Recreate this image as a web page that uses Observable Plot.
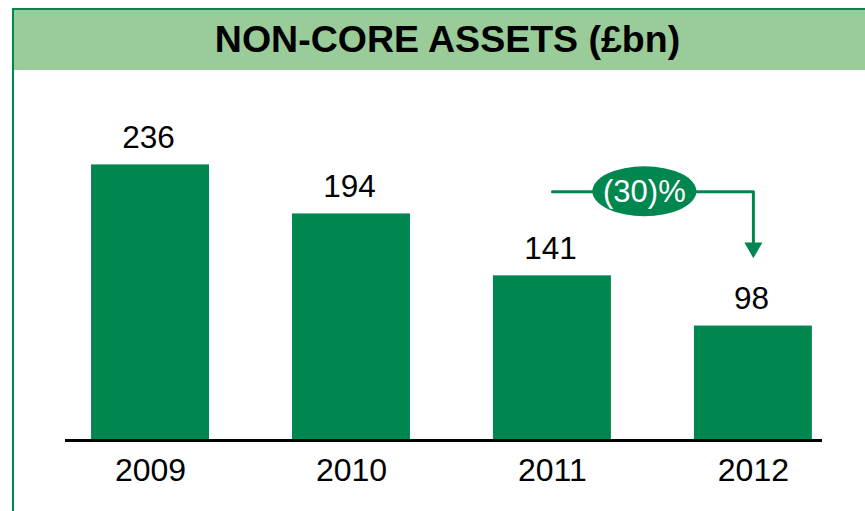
<!DOCTYPE html>
<html>
<head>
<meta charset="utf-8">
<script src="https://cdn.jsdelivr.net/npm/d3@7"></script>
<script src="https://cdn.jsdelivr.net/npm/@observablehq/plot@0.6"></script>
<style>
  html, body { margin: 0; padding: 0; background: #fff; }
  body { width: 865px; height: 511px; overflow: hidden; position: relative; font-family: "Liberation Sans", Arial, sans-serif; }
  #frame { position: absolute; left: 12px; top: 8px; width: 900px; height: 600px;
           border-left: 2.5px solid #00874F; border-top: 2.5px solid #00874F; box-sizing: border-box; }
  #header { position: absolute; left: 14px; top: 10px; right: 0; height: 60px; background: #99CC99;
            display: flex; align-items: center; justify-content: center; }
  #header h1 { margin: 0; padding-left: 16px; font-size: 37.5px; font-weight: bold; color: #000; letter-spacing: 0; line-height: 1; }
  #chart { position: absolute; left: 0; top: 0; }
</style>
</head>
<body>
<div id="frame"></div>
<div id="header"><h1>NON-CORE ASSETS (£bn)</h1></div>
<div id="chart"></div>
<script>
const years = ["2009", "2010", "2011", "2012"];
const assets = [236, 194, 141, 98];
const changeLabel = "(30)%";
const arrowFrom = "2011";
const arrowTo = "2012";
const arrowLevel = 213;     // £bn level of the horizontal connector
const arrowTipLevel = 165;  // £bn level of the arrow head
const labelPosition = 0.46; // fraction of the way from arrowFrom to arrowTo

const green = "#00874F";
const data = years.map((year, i) => ({year, value: assets[i]}));
const arrowPath = [
  {x: arrowFrom, y: arrowLevel},
  {x: arrowTo, y: arrowLevel},
  {x: arrowTo, y: arrowTipLevel}
];

const badge = (index, scales) => {
  const x = scales.x;
  const bw = x.bandwidth ? x.bandwidth() : 0;
  const x0 = x(arrowFrom) + bw / 2, x1 = x(arrowTo) + bw / 2;
  const cx = x0 + (x1 - x0) * labelPosition;
  const cy = scales.y(arrowLevel);
  const g = d3.create("svg:g");
  g.append("ellipse").attr("cx", cx).attr("cy", cy).attr("rx", 52).attr("ry", 25).attr("fill", green);
  g.append("text").attr("x", cx).attr("y", cy).attr("dy", "0.35em")
    .attr("text-anchor", "middle").attr("fill", "#fff")
    .attr("font-size", 31).attr("font-family", "Liberation Sans, Arial, sans-serif")
    .text(changeLabel);
  return g.node();
};

const chart = Plot.plot({
  width: 865,
  height: 511,
  marginLeft: 65,
  marginRight: 43,
  marginTop: 164.4,
  marginBottom: 71,
  style: {fontFamily: "Liberation Sans, Arial, sans-serif", background: "transparent", color: "#000"},
  x: {domain: years, paddingInner: 0.413, paddingOuter: 0.09, align: 0.72, round: false},
  y: {domain: [0, 236], axis: null},
  marks: [
    Plot.barY(data, {x: "year", y: "value", fill: green}),
    Plot.ruleY([0], {stroke: "#000", strokeWidth: 3}),
    Plot.text(data, {x: "year", y: "value", text: d => String(d.value), dy: -27, dx: -2, fontSize: 31.5, fill: "#000"}),
    Plot.axisX({tickSize: 0, tickPadding: 18, fontSize: 32, color: "#000"}),
    Plot.line(arrowPath, {x: "x", y: "y", stroke: green, strokeWidth: 3}),
    Plot.dot([{x: arrowTo, y: arrowTipLevel}], {x: "x", y: "y", symbol: "triangle", r: 6.7, fill: green, stroke: null, rotate: 180}),
    badge
  ]
});
document.getElementById("chart").appendChild(chart);
</script>
</body>
</html>
